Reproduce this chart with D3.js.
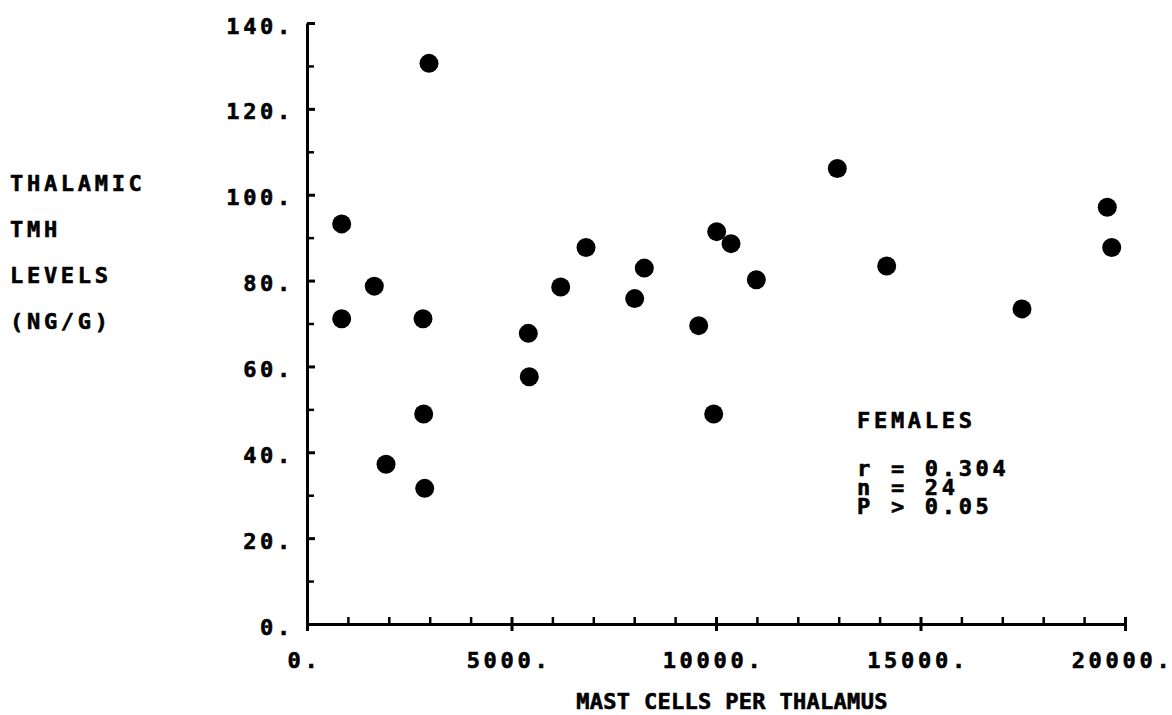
<!DOCTYPE html>
<html>
<head>
<meta charset="utf-8">
<script src="https://cdn.jsdelivr.net/npm/d3@7"></script>
<style>
  body { margin: 0; background: #fff; }
  text { font-family: "DejaVu Sans Mono", monospace; font-weight: bold; fill: #000; stroke: #000; stroke-width: 0.6px; }
</style>
</head>
<body>
<div id="chart"></div>
<script>
// mast cells per thalamus vs thalamic TMH level, one dot per female
let mastCells = [848, 848, 1645, 1932, 2836, 2853, 2878, 2983, 5411, 5435, 6203, 6822,
                 8012, 8247, 9577, 9944, 10017, 10367, 10986, 12966, 14174, 17482, 19567, 19675];
let tmhLevels = [93.2, 71.1, 78.7, 37.2, 71.1, 48.9, 31.6, 130.6, 67.7, 57.6, 78.5, 87.7,
                 75.8, 82.9, 69.5, 48.9, 91.4, 88.6, 80.2, 106.1, 83.4, 73.4, 97.1, 87.7];

let xTicks = [0, 5000, 10000, 15000, 20000];
let yTicks = [0, 20, 40, 60, 80, 100, 120, 140];
let yTitle = ["THALAMIC", "TMH", "LEVELS", "(NG/G)"];
let stats = ["r = 0.304", "n = 24", "P > 0.05"];

let width = 1172;
let height = 715;

let svg = d3.select("#chart").append("svg")
    .attr("width", width)
    .attr("height", height);

let x = d3.scaleLinear().domain([0, 20000]).range([307, 1125]);
let y = d3.scaleLinear().domain([0, 140]).range([624, 23]);

let xMinor = d3.range(1000, 20000, 1000).filter(d => d % 5000 !== 0);
let yMinor = d3.range(10, 140, 20);

function styleAxis(g){
    g.select(".domain").attr("stroke-width", 3);
    g.selectAll(".tick line").attr("stroke-width", 3);
    g.selectAll(".tick text")
        .style("font-size", "22px")
        .style("letter-spacing", "3.7px")
        .attr("font-family", null);
}

// x axis
let gx = svg.append("g").attr("transform", `translate(0,${y(0)})`);
gx.call(d3.axisBottom(x).tickValues(xTicks).tickSize(7).tickSizeOuter(0).tickFormat(d => d + "."))
    .call(styleAxis)
    .call(g => g.selectAll(".tick line").attr("y1", -7))
    .call(g => g.selectAll(".tick text").attr("y", 44).attr("dy", 0).attr("dx", -3));

svg.append("g").attr("transform", `translate(0,${y(0)})`)
    .call(d3.axisTop(x).tickValues(xMinor).tickSize(7).tickFormat(""))
    .call(g => g.select(".domain").remove())
    .call(g => g.selectAll(".tick line").attr("stroke-width", 2.5));

// y axis
let gy = svg.append("g").attr("transform", `translate(${x(0)},0)`);
gy.call(d3.axisLeft(y).tickValues(yTicks).tickSize(7).tickSizeOuter(0).tickFormat(d => d + "."))
    .call(styleAxis)
    .call(g => g.selectAll(".tick line").attr("x2", 8))
    .call(g => g.selectAll(".tick text").attr("x", -13).attr("dy", 10));

svg.append("g").attr("transform", `translate(${x(0)},0)`)
    .call(d3.axisRight(y).tickValues(yMinor).tickSize(7).tickFormat(""))
    .call(g => g.select(".domain").remove())
    .call(g => g.selectAll(".tick line").attr("stroke-width", 2.5));

// dots
svg.append("g")
    .selectAll("circle")
    .data(mastCells)
    .join("circle")
        .attr("cx", d => x(d))
        .attr("cy", (d, i) => y(tmhLevels[i]))
        .attr("r", 9.5)
        .attr("fill", "#000");

// axis titles
svg.append("text")
    .attr("x", 732)
    .attr("y", 709)
    .attr("text-anchor", "middle")
    .style("font-size", "22px")
    .style("letter-spacing", "0.3px")
    .text("MAST CELLS PER THALAMUS");

svg.append("g")
    .selectAll("text")
    .data(yTitle)
    .join("text")
        .attr("x", 10)
        .attr("y", (d, i) => 191 + i * 46)
        .style("font-size", "22px")
        .style("letter-spacing", "3.7px")
        .text(d => d);

// annotation
svg.append("text")
    .attr("x", 857)
    .attr("y", 428)
    .style("font-size", "22px")
    .style("letter-spacing", "3.7px")
    .text("FEMALES");

svg.append("g")
    .selectAll("text")
    .data(stats)
    .join("text")
        .attr("x", 857)
        .attr("y", (d, i) => 476 + i * 19)
        .style("font-size", "22px")
        .style("letter-spacing", "3.7px")
        .text(d => d);
</script>
</body>
</html>
